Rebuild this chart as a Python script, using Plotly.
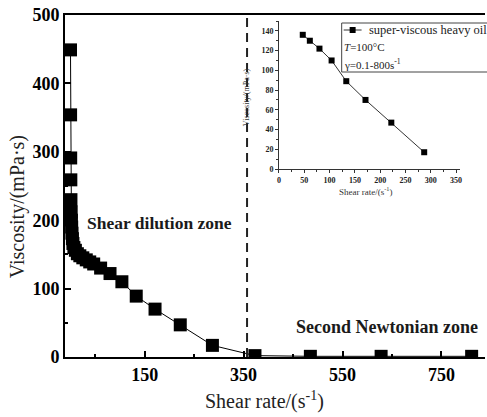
import plotly.graph_objects as go

# ---- data ----
shear_rate = [0.1, 0.3, 0.5, 0.8, 1.0, 1.5, 2, 2.5, 3, 4, 5, 7, 10, 14, 19, 25, 32, 39,
              47, 61, 80, 104, 133, 171, 222, 287, 373, 485, 628, 811]
viscosity = [449, 354, 291, 259, 230, 212, 200, 190, 181, 173, 166, 160, 156, 151, 148, 145, 142, 139,
             136, 130, 122, 110, 89, 70, 47, 17, 2, 1, 1, 1]

inset_rate = [47, 61, 80, 104, 133, 171, 222, 287]
inset_visc = [136, 130, 122, 110, 89, 70, 47, 17]

boundary_rate = 357
main_x_ticks = [150, 350, 550, 750]
main_x_minor = [50, 250, 450, 650]
main_y_ticks = [0, 100, 200, 300, 400, 500]

FONT = "Liberation Serif"

fig = go.Figure()

fig.add_trace(go.Scatter(
    x=shear_rate, y=viscosity, mode="lines+markers",
    line=dict(color="black", width=1),
    marker=dict(symbol="square", size=13, color="black"),
    showlegend=False, xaxis="x", yaxis="y"))

fig.add_trace(go.Scatter(
    x=inset_rate, y=inset_visc, mode="lines+markers",
    line=dict(color="#333", width=1),
    marker=dict(symbol="square", size=6, color="black"),
    showlegend=False, xaxis="x2", yaxis="y2"))

fig.add_shape(type="line", xref="x", yref="paper", x0=boundary_rate, x1=boundary_rate,
              y0=0, y1=1, line=dict(color="#222", width=2, dash="9px,6px"))

W, H = 487, 417
L, R, T, B = 65, 0, 15, 60
pw, ph = W - L - R, H - T - B


def px(xp):
    return (xp - L) / pw


def py(yp):
    return (T + ph - yp) / ph


fig.update_layout(
    width=W, height=H,
    margin=dict(l=L, r=R, t=T, b=B),
    paper_bgcolor="white", plot_bgcolor="white",
    font=dict(family=FONT, color="black"),
    xaxis=dict(range=[-11, 838], showline=True, linecolor="black", linewidth=2, mirror=True,
               ticks="inside", ticklen=6, tickwidth=1.5, tickcolor="black",
               tickmode="array", tickvals=main_x_ticks,
               minor=dict(tickmode="array", tickvals=main_x_minor, ticks="inside", ticklen=3,
                          tickcolor="black", tickwidth=1.5),
               tickfont=dict(family=FONT, size=18, color="black", weight="bold"),
               showgrid=False, zeroline=False),
    yaxis=dict(range=[0, 500], showline=True, linecolor="black", linewidth=2,
               ticks="inside", ticklen=6, tickwidth=1.5, tickcolor="black",
               tickmode="array", tickvals=main_y_ticks,
               minor=dict(dtick=50, tick0=0, ticks="inside", ticklen=3, tickcolor="black", tickwidth=1.5),
               tickfont=dict(family=FONT, size=18, color="black", weight="bold"),
               showgrid=False, zeroline=False),
    xaxis2=dict(domain=[px(280), px(462)], anchor="y2", range=[0, 358],
                showline=True, linecolor="#333", linewidth=1,
                ticks="outside", ticklen=3, tickcolor="#333", dtick=50, tick0=0,
                minor=dict(dtick=25, ticks="outside", ticklen=2, tickcolor="#333"),
                tickfont=dict(family=FONT, size=8, color="#222", weight="bold"),
                showgrid=False, zeroline=False),
    yaxis2=dict(domain=[py(169), py(21)], anchor="x2", range=[0, 150],
                showline=True, linecolor="#333", linewidth=1,
                ticks="outside", ticklen=3, tickcolor="#333", dtick=20, tick0=0,
                minor=dict(dtick=10, ticks="outside", ticklen=2, tickcolor="#333"),
                tickfont=dict(family=FONT, size=8, color="#222", weight="bold"),
                showgrid=False, zeroline=False),
)

ann = []
ann.append(dict(text="Shear rate/(s<sup>-1</sup>)", x=px(265), y=py(400), xref="paper", yref="paper",
                showarrow=False, xanchor="center", yanchor="middle",
                font=dict(family=FONT, size=20, color="#222")))
ann.append(dict(text="Viscosity/(mPa·s)", x=px(17), y=py(207), xref="paper", yref="paper",
                showarrow=False, xanchor="center", yanchor="middle", textangle=-90,
                font=dict(family=FONT, size=20, color="#222")))
ann.append(dict(text="<b>Shear dilution zone</b>", x=px(85), y=py(223), xref="paper", yref="paper",
                showarrow=False, xanchor="left", yanchor="middle",
                font=dict(family=FONT, size=17.5, color="#1a1a1a")))
ann.append(dict(text="<b>Second Newtonian zone</b>", x=px(295), y=py(327), xref="paper", yref="paper",
                showarrow=False, xanchor="left", yanchor="middle",
                font=dict(family=FONT, size=18, color="#1a1a1a")))
ann.append(dict(text="Shear rate/(s<sup>-1</sup>)", x=px(367), y=py(191), xref="paper", yref="paper",
                showarrow=False, xanchor="center", yanchor="middle",
                font=dict(family=FONT, size=9, color="#333")))
ann.append(dict(text="Viscosity/(mPa·s)", x=px(247), y=py(97), xref="paper", yref="paper",
                showarrow=False, xanchor="center", yanchor="middle", textangle=-90,
                font=dict(family=FONT, size=8, color="#333")))
ann.append(dict(text="super-viscous heavy oil", x=px(368), y=py(30), xref="paper", yref="paper",
                showarrow=False, xanchor="left", yanchor="middle",
                font=dict(family=FONT, size=12.5, color="#222")))
ann.append(dict(text="<i>T</i>=100°C", x=px(343), y=py(47), xref="paper", yref="paper",
                showarrow=False, xanchor="left", yanchor="middle",
                font=dict(family=FONT, size=11, color="#222")))
ann.append(dict(text="γ=0.1-800s<sup>-1</sup>", x=px(343), y=py(64), xref="paper", yref="paper",
                showarrow=False, xanchor="left", yanchor="middle",
                font=dict(family=FONT, size=11, color="#222")))
fig.update_layout(annotations=ann)

fig.add_shape(type="rect", xref="paper", yref="paper", x0=px(343), x1=px(495), y0=py(72), y1=py(23),
              line=dict(color="#444", width=1), fillcolor="rgba(0,0,0,0)")
fig.add_shape(type="line", xref="paper", yref="paper", x0=px(345), x1=px(363), y0=py(30), y1=py(30),
              line=dict(color="#333", width=1))
fig.add_shape(type="rect", xref="paper", yref="paper", x0=px(351), x1=px(357), y0=py(33), y1=py(27),
              line=dict(color="black", width=0), fillcolor="black")

fig.write_html("out.html")
